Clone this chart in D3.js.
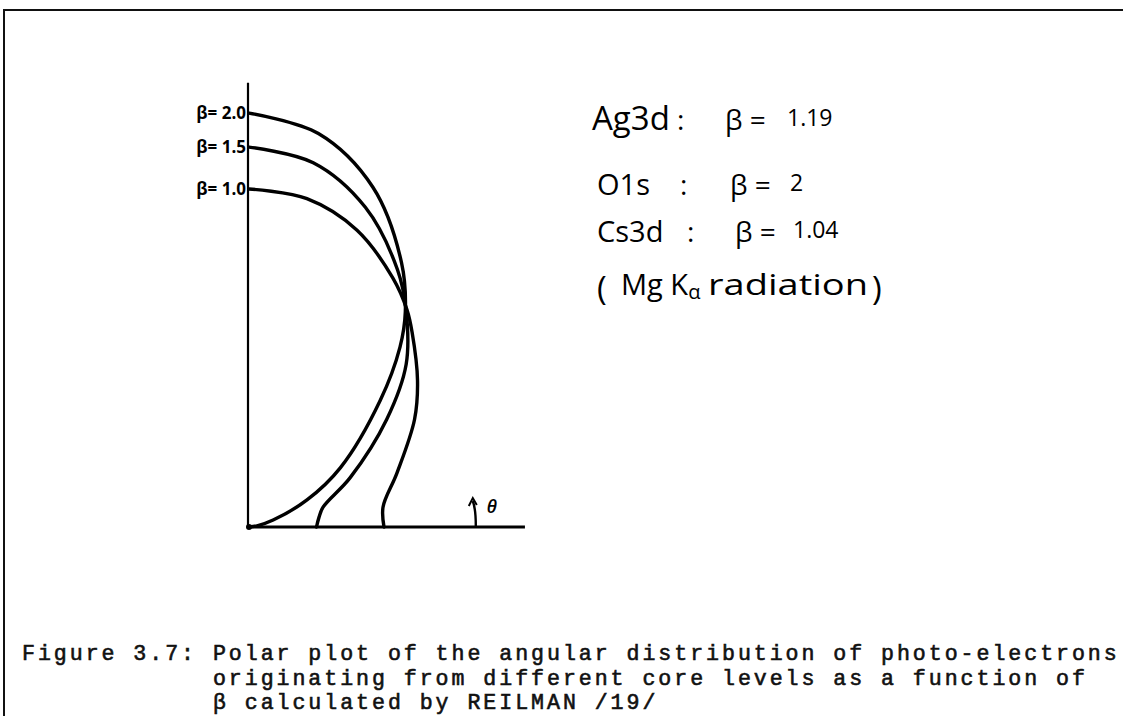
<!DOCTYPE html>
<html>
<head>
<meta charset="utf-8">
<script src="https://cdn.jsdelivr.net/npm/d3@7"></script>
<style>
  html, body { margin: 0; padding: 0; background: #fff; }
  svg { display: block; }
</style>
</head>
<body>
<svg id="fig" width="1123" height="716"></svg>
<script>
// Angular distribution curves: [theta (deg, from the horizontal axis), relative intensity]
const betaLabels = ["2.0", "1.5", "1.0"];
const curveBeta20 = [[0, 0], [8, 0.03], [16, 0.093], [25, 0.237], [33, 0.404], [44, 0.676],
                     [50, 0.87], [54, 0.985], [60, 1.13], [70, 1.34], [80, 1.48], [90, 1.533]];
const curveBeta15 = [[0, 0.25], [8, 0.262], [15, 0.284], [26, 0.417], [38, 0.647], [46, 0.838],
                     [54, 0.99], [60, 1.1], [70, 1.26], [80, 1.37], [90, 1.407]];
const curveBeta10 = [[0, 0.5], [8.5, 0.502], [20, 0.583], [33, 0.731], [41, 0.827], [50, 0.94],
                     [54, 0.995], [60, 1.065], [70, 1.17], [80, 1.235], [90, 1.252]];
const curves = [curveBeta20, curveBeta15, curveBeta10];

// Core levels and their asymmetry parameters
const coreLevels = ["Ag3d", "O1s", "Cs3d"];
const coreBetas = ["1.19", "2", "1.04"];

const captionLines = [
  "Figure 3.7: Polar plot of the angular distribution of photo-electrons",
  "            originating from different core levels as a function of",
  "            \u03b2 calculated by REILMAN /19/"
];

const svg = d3.select("#fig");

// Page frame (top rule and left rule)
svg.append("path")
  .attr("d", "M4,716 L4,10 L1123,10")
  .attr("fill", "none").attr("stroke", "#111").attr("stroke-width", 2);

// Polar plot
const origin = { x: 249, y: 527 };
const r = d3.scaleLinear().domain([0, 1]).range([0, 270]);
const g = svg.append("g").attr("transform", `translate(${origin.x},${origin.y})`);

// Axes: horizontal (theta = 0) and vertical (theta = 90)
g.append("line")
  .attr("x1", 0).attr("y1", 0).attr("x2", r(1.022)).attr("y2", 0)
  .attr("stroke", "#000").attr("stroke-width", 3);
g.append("line")
  .attr("x1", -1).attr("y1", 0).attr("x2", -1).attr("y2", -r(1.645))
  .attr("stroke", "#000").attr("stroke-width", 2.2);
g.append("circle").attr("cx", 0).attr("cy", 0).attr("r", 3).attr("fill", "#000");

const radial = d3.lineRadial()
  .angle(d => (90 - d[0]) * Math.PI / 180)
  .radius(d => r(d[1]))
  .curve(d3.curveCatmullRom.alpha(0.5));

g.selectAll("path.curve")
  .data(curves)
  .join("path")
  .attr("class", "curve")
  .attr("d", radial)
  .attr("fill", "none")
  .attr("stroke", "#000")
  .attr("stroke-width", 3.4)
  .attr("stroke-linecap", "round");

// Beta labels at the vertical intercepts
const hand = "'Open Sans', 'Noto Sans', sans-serif";
g.selectAll("text.blabel")
  .data(curves)
  .join("text")
  .attr("class", "blabel")
  .attr("x", -3)
  .attr("y", d => -r(d[d.length - 1][1]) + 6)
  .attr("text-anchor", "end")
  .attr("font-family", hand)
  .attr("font-size", 17)
  .attr("font-weight", 700)
  .text((d, i) => "\u03b2= " + betaLabels[i]);

// Theta arrow on the horizontal axis
const ax = r(0.84);
g.append("path")
  .attr("d", `M${ax},-1 C${ax},-10 ${ax},-18 ${ax - 3},-26`)
  .attr("fill", "none").attr("stroke", "#000").attr("stroke-width", 2.4);
g.append("path")
  .attr("d", `M${ax - 7},-21 L${ax - 3},-29 L${ax + 1},-22`)
  .attr("fill", "none").attr("stroke", "#000").attr("stroke-width", 2);
g.append("text")
  .attr("x", ax + 11).attr("y", -14)
  .attr("font-family", hand).attr("font-style", "italic")
  .attr("font-size", 18).attr("font-weight", 600)
  .text("\u03b8");

// Legend of core levels
const leg = svg.append("g")
  .attr("font-family", hand)
  .attr("fill", "#000");
const rowY = [130, 195, 242];
const nameSize = [33, 29, 29];
const nameX = [592, 597, 597];
const colonX = [677, 680, 687];
const betaX = [725, 730, 735];
const valX = [787, 790, 793];
coreLevels.forEach((name, i) => {
  leg.append("text").attr("x", nameX[i]).attr("y", rowY[i])
    .attr("font-size", nameSize[i]).text(name);
  leg.append("text").attr("x", colonX[i]).attr("y", rowY[i])
    .attr("font-size", 28).text(":");
  leg.append("text").attr("x", betaX[i]).attr("y", rowY[i])
    .attr("font-size", 28).text("\u03b2 =");
  leg.append("text").attr("x", valX[i]).attr("y", rowY[i] - 4)
    .attr("font-size", 23).text(coreBetas[i]);
});
leg.append("text").attr("x", 597).attr("y", 300).attr("font-size", 33).text("(");
const mg = leg.append("text").attr("x", 621).attr("y", 295).attr("font-size", 29);
mg.append("tspan").text("Mg K");
mg.append("tspan").attr("font-size", 20).attr("dy", 4).text("\u03b1");
leg.append("text").attr("x", 708).attr("y", 295).attr("font-size", 30)
  .attr("textLength", 160).attr("lengthAdjust", "spacingAndGlyphs")
  .text("radiation");
leg.append("text").attr("x", 872).attr("y", 300).attr("font-size", 33).text(")");

// Caption, one text block with a line per tspan
const cap = svg.append("text")
  .attr("font-family", "'Liberation Mono', 'DejaVu Sans Mono', monospace")
  .attr("font-size", 21.6)
  .attr("letter-spacing", 2.95)
  .attr("xml:space", "preserve")
  .style("white-space", "pre")
  .attr("fill", "#111")
  .attr("stroke", "#111").attr("stroke-width", 0.6);
cap.selectAll("tspan")
  .data(captionLines)
  .join("tspan")
  .attr("x", 22)
  .attr("y", (d, i) => 660 + i * 24.5)
  .text(d => d);
</script>
</body>
</html>
